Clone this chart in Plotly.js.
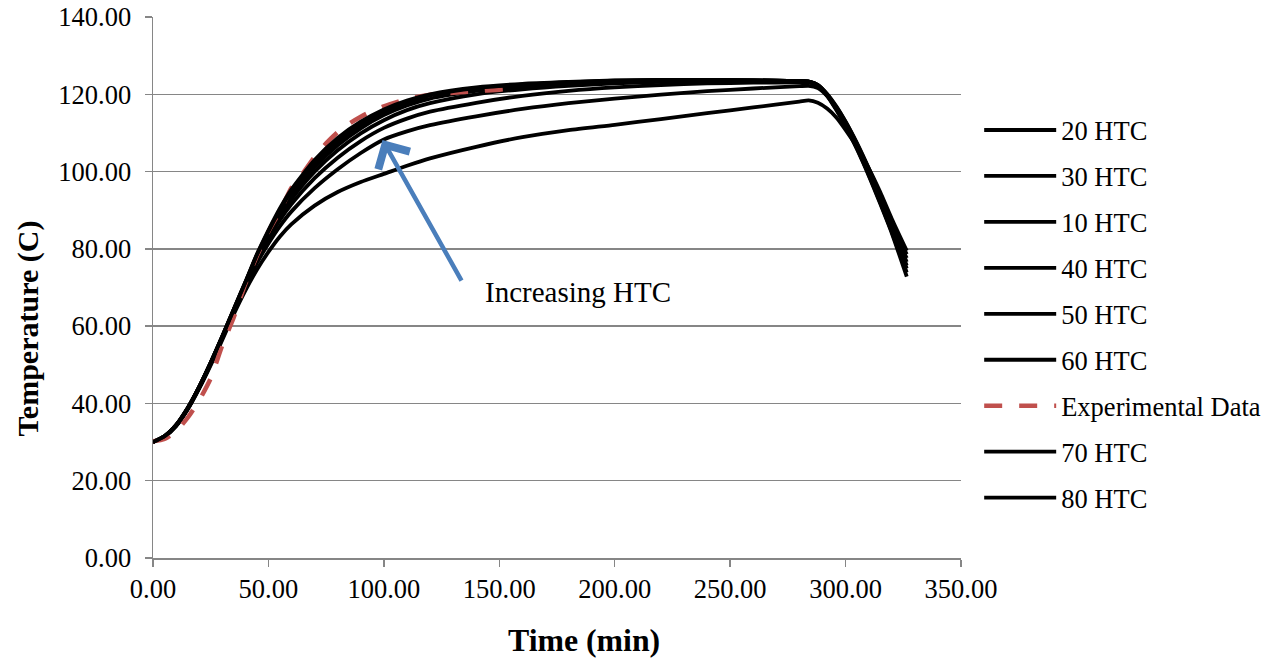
<!DOCTYPE html>
<html>
<head>
<meta charset="utf-8">
<script src="https://cdn.plot.ly/plotly-3.0.1.min.js"></script>
<style>
  html, body { margin: 0; padding: 0; background: #fff; }
  #chart { width: 1278px; height: 661px; }
</style>
</head>
<body>
<div id="chart"></div>
<script>
// Simulated sample temperature (C) versus time (min) for several heat transfer coefficients
const timeMin = [0, 5, 10, 15, 20, 25, 30, 35, 40, 45, 50, 55, 60, 70, 80, 90, 100, 110, 120,
  140, 160, 180, 200, 220, 240, 260, 280, 284, 288, 292, 296, 300, 305, 310, 315, 320, 326.5];

const htc10 = [30, 31.4, 34.1, 38.4, 43.8, 49.9, 56.4, 63.1, 69.2, 74.6, 79.2, 83.2, 86.4, 91.2, 94.7, 97.3, 99.4, 101.5, 103.4,
  106.4, 108.9, 110.7, 112.1, 113.6, 115.1, 116.6, 118.1, 118.4, 117.8, 116.3, 114.0, 110.8, 106.3, 100.9, 94.7, 87.8, 79.5];
const htc20 = [30, 31.5, 34.2, 38.5, 44.0, 50.2, 56.8, 63.6, 70.2, 76.3, 81.4, 85.9, 89.7, 95.7, 100.6, 104.8, 108.3, 110.4, 112.0,
  114.3, 116.2, 117.7, 118.9, 119.9, 120.8, 121.5, 122.1, 122.2, 121.6, 119.6, 116.7, 112.9, 107.3, 100.9, 93.9, 86.5, 78.6];
const htc30 = [30, 31.5, 34.3, 38.6, 44.1, 50.3, 57.0, 63.9, 70.6, 77.2, 82.6, 87.5, 91.6, 98.3, 103.6, 107.9, 111.3, 113.7, 115.5,
  117.8, 119.6, 120.9, 121.8, 122.4, 122.8, 123.0, 123.1, 123.1, 122.3, 120.1, 116.9, 112.9, 107.1, 100.6, 93.5, 85.9, 77.6];
const htc40 = [30, 31.5, 34.3, 38.7, 44.2, 50.4, 57.1, 64.0, 70.9, 77.7, 83.3, 88.5, 92.9, 100.0, 105.5, 109.9, 113.3, 115.9, 117.7,
  120.0, 121.3, 122.2, 122.8, 123.2, 123.4, 123.4, 123.3, 123.3, 122.4, 120.0, 116.6, 112.5, 106.7, 100.2, 93.0, 85.4, 76.6];
const htc50 = [30, 31.5, 34.3, 38.7, 44.2, 50.5, 57.2, 64.2, 71.1, 78.0, 83.8, 89.2, 93.8, 101.1, 106.8, 111.2, 114.6, 117.1, 118.9,
  120.9, 122.0, 122.7, 123.2, 123.5, 123.6, 123.6, 123.4, 123.3, 122.4, 119.9, 116.4, 112.3, 106.4, 99.8, 92.6, 85.0, 75.7];
const htc60 = [30, 31.5, 34.4, 38.7, 44.3, 50.5, 57.3, 64.3, 71.2, 78.2, 84.2, 89.7, 94.4, 101.9, 107.6, 111.9, 115.3, 117.7, 119.4,
  121.3, 122.3, 123.0, 123.4, 123.6, 123.7, 123.6, 123.4, 123.3, 122.4, 119.8, 116.2, 112.1, 106.1, 99.5, 92.3, 84.7, 74.9];
const htc70 = [30, 31.5, 34.4, 38.8, 44.3, 50.6, 57.3, 64.4, 71.3, 78.4, 84.5, 90.1, 94.9, 102.5, 108.2, 112.5, 115.8, 118.1, 119.7,
  121.6, 122.5, 123.1, 123.5, 123.7, 123.7, 123.6, 123.4, 123.3, 122.4, 119.7, 116.1, 111.9, 105.9, 99.2, 92.0, 84.4, 73.9];
const htc80 = [30, 31.5, 34.4, 38.8, 44.3, 50.6, 57.4, 64.4, 71.4, 78.6, 84.8, 90.5, 95.4, 103.0, 108.7, 112.9, 116.1, 118.4, 120.0,
  121.8, 122.7, 123.2, 123.6, 123.7, 123.7, 123.6, 123.4, 123.3, 122.3, 119.6, 115.9, 111.7, 105.7, 99.0, 91.7, 84.1, 72.8];

// Measured temperature (heating phase only)
const expTime = [0, 5, 10, 15, 20, 25, 30, 35, 40, 45, 50, 55, 60, 64, 70, 75, 80, 85, 90, 95, 100, 110, 120, 130, 140, 150, 152];
const expTemp = [30.2, 30.8, 32.8, 36.3, 40.8, 46.5, 55.0, 62.3, 71.0, 78.2, 84.5, 89.8, 95.8, 98.8, 103.8, 107.3, 110.2, 112.4,
  114.2, 115.7, 116.9, 118.8, 119.9, 120.4, 120.8, 121.2, 121.3];

// Legend order follows the series order of the workbook
const seriesNames = ['20 HTC', '30 HTC', '10 HTC', '40 HTC', '50 HTC', '60 HTC', 'Experimental Data', '70 HTC', '80 HTC'];
const seriesValues = [htc20, htc30, htc10, htc40, htc50, htc60, null, htc70, htc80];

const FONT = "'Liberation Serif', 'Times New Roman', Times, serif";
const GRID = '#868686';

const traces = seriesNames.map((name, i) => {
  const isExp = seriesValues[i] === null;
  return {
    type: 'scatter',
    mode: 'lines',
    name: name,
    legendgroup: 'g' + i,
    x: isExp ? expTime : timeMin,
    y: isExp ? expTemp : seriesValues[i],
    line: isExp
      ? { color: '#c0504d', width: 4.5, dash: '18px,17px', shape: 'spline', smoothing: 0.6 }
      : { color: '#000000', width: 3.8, shape: 'spline', smoothing: 0.6 },
    hoverinfo: 'x+y+name'
  };
});

const layout = {
  width: 1278,
  height: 661,
  paper_bgcolor: '#ffffff',
  plot_bgcolor: '#ffffff',
  font: { family: FONT, color: '#000000', size: 26 },
  margin: { l: 153, r: 315, t: 17, b: 103, pad: 0 },
  showlegend: true,
  legend: {
    x: 1.0225, xanchor: 'left',
    y: 0.835, yanchor: 'top',
    font: { family: FONT, size: 26.5, color: '#000000' },
    itemwidth: 72,
    tracegroupgap: 8.5,
    traceorder: 'grouped',
    bgcolor: 'rgba(0,0,0,0)'
  },
  xaxis: {
    range: [0, 350],
    dtick: 50,
    tick0: 0,
    tickformat: '.2f',
    showgrid: false,
    zeroline: false,
    showline: true,
    linecolor: GRID,
    linewidth: 1.5,
    ticks: 'outside',
    ticklen: 7,
    tickwidth: 1.5,
    tickcolor: GRID,
    tickfont: { family: FONT, size: 26.5, color: '#000000' },
    automargin: false
  },
  yaxis: {
    range: [0, 140],
    dtick: 20,
    tick0: 0,
    tickformat: '.2f',
    showgrid: true,
    gridcolor: GRID,
    gridwidth: 1.5,
    zeroline: false,
    showline: true,
    linecolor: GRID,
    linewidth: 1.5,
    ticks: 'outside',
    ticklen: 7,
    tickwidth: 1.5,
    tickcolor: GRID,
    ticklabelstandoff: 8,
    tickfont: { family: FONT, size: 26.5, color: '#000000' },
    automargin: false
  },
  annotations: [
    // axis titles, placed as in the workbook chart
    {
      x: 0.533, y: -0.1516, xref: 'paper', yref: 'paper',
      xanchor: 'center', yanchor: 'middle', showarrow: false,
      text: '<b>Time (min)</b>',
      font: { family: FONT, size: 31.8, color: '#000000' }
    },
    {
      x: -0.1543, y: 0.425, xref: 'paper', yref: 'paper',
      xanchor: 'center', yanchor: 'middle', showarrow: false, textangle: -90,
      text: '<b>Temperature (C)</b>',
      font: { family: FONT, size: 30, color: '#000000' }
    },
    {
      x: 99.4, y: 108.2, xref: 'x', yref: 'y',
      ax: 134, ay: 71.4, axref: 'x', ayref: 'y',
      showarrow: true, arrowhead: 4, arrowsize: 1.55, arrowwidth: 4.5,
      arrowcolor: '#4a7ebb', text: ''
    },
    {
      x: 143, y: 68.8, xref: 'x', yref: 'y',
      xanchor: 'left', yanchor: 'middle', showarrow: false,
      text: 'Increasing HTC',
      font: { family: FONT, size: 29, color: '#000000' }
    }
  ]
};

Plotly.newPlot('chart', traces, layout, { displayModeBar: false, staticPlot: true });
</script>
</body>
</html>
